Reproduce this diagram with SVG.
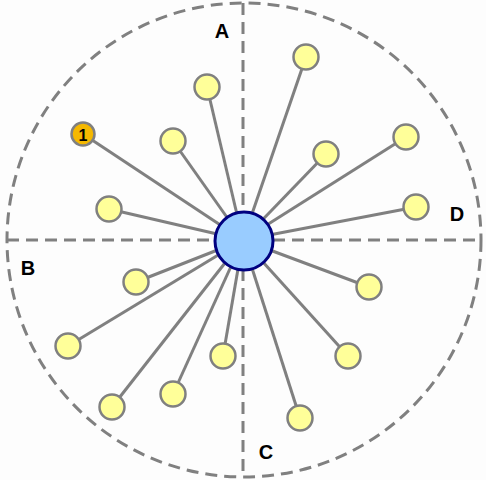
<svg xmlns="http://www.w3.org/2000/svg" width="486" height="480" viewBox="0 0 486 480">
<style>
.dash{fill:none;stroke:#808080;stroke-width:3;stroke-dasharray:12 7}
.edge{stroke:#808080;stroke-width:3}
.leaf{fill:#ffff99;stroke:#808080;stroke-width:2.5}
.num{fill:#f5b800;stroke:#808080;stroke-width:2.5}
.lbl{font-family:"Liberation Sans",Arial,sans-serif;font-weight:bold;font-size:20px;fill:#000}
</style>
<rect width="486" height="480" fill="#fdfdfd"/>
<g id="frame">
<circle class="dash" cx="244" cy="240" r="237"/>
<line class="dash" x1="7" y1="240" x2="481" y2="240"/>
<line class="dash" x1="243" y1="3" x2="243" y2="477"/>
</g>
<g id="connectors">
<line class="edge" x1="243" y1="240" x2="207" y2="87"/>
<line class="edge" x1="243" y1="240" x2="83" y2="134"/>
<line class="edge" x1="243" y1="240" x2="173" y2="141"/>
<line class="edge" x1="243" y1="240" x2="109" y2="209"/>
<line class="edge" x1="243" y1="240" x2="306" y2="57"/>
<line class="edge" x1="243" y1="240" x2="326" y2="154"/>
<line class="edge" x1="243" y1="240" x2="406" y2="137"/>
<line class="edge" x1="243" y1="240" x2="416" y2="207"/>
<line class="edge" x1="243" y1="240" x2="136" y2="282"/>
<line class="edge" x1="243" y1="240" x2="68" y2="346"/>
<line class="edge" x1="243" y1="240" x2="112" y2="407"/>
<line class="edge" x1="243" y1="240" x2="173" y2="394"/>
<line class="edge" x1="243" y1="240" x2="223" y2="356"/>
<line class="edge" x1="243" y1="240" x2="369" y2="287"/>
<line class="edge" x1="243" y1="240" x2="348" y2="356"/>
<line class="edge" x1="243" y1="240" x2="300" y2="418"/>
</g>
<g id="hub"><circle cx="244" cy="241" r="29" fill="#99ccff" stroke="#000080" stroke-width="3"/></g>
<g id="n1"><circle class="num" cx="83" cy="134" r="11.5"/><text x="83" y="140.5" text-anchor="middle" font-family="Liberation Sans,Arial,sans-serif" font-weight="bold" font-size="16" fill="#000">1</text></g>
<g id="a1"><circle class="leaf" cx="207" cy="87" r="12.5"/></g>
<g id="a2"><circle class="leaf" cx="173" cy="141" r="12.5"/></g>
<g id="a3"><circle class="leaf" cx="109" cy="209" r="12.5"/></g>
<g id="d1"><circle class="leaf" cx="306" cy="57" r="12.5"/></g>
<g id="d2"><circle class="leaf" cx="326" cy="154" r="12.5"/></g>
<g id="d3"><circle class="leaf" cx="406" cy="137" r="12.5"/></g>
<g id="d4"><circle class="leaf" cx="416" cy="207" r="12.5"/></g>
<g id="b1"><circle class="leaf" cx="136" cy="282" r="12.5"/></g>
<g id="b2"><circle class="leaf" cx="68" cy="346" r="12.5"/></g>
<g id="b3"><circle class="leaf" cx="112" cy="407" r="12.5"/></g>
<g id="b4"><circle class="leaf" cx="173" cy="394" r="12.5"/></g>
<g id="b5"><circle class="leaf" cx="223" cy="356" r="12.5"/></g>
<g id="c1"><circle class="leaf" cx="369" cy="287" r="12.5"/></g>
<g id="c2"><circle class="leaf" cx="348" cy="356" r="12.5"/></g>
<g id="c3"><circle class="leaf" cx="300" cy="418" r="12.5"/></g>
<g id="labels">
<text class="lbl" x="222" y="38" text-anchor="middle">A</text>
<text class="lbl" x="28" y="275" text-anchor="middle">B</text>
<text class="lbl" x="266" y="459" text-anchor="middle">C</text>
<text class="lbl" x="457" y="221" text-anchor="middle">D</text>
</g>
</svg>
